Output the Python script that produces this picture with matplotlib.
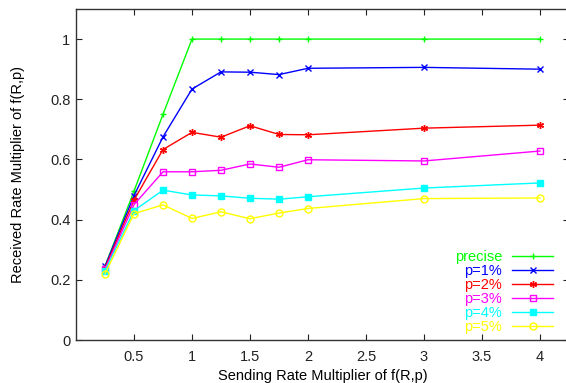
import matplotlib
matplotlib.use("Agg")
import matplotlib.pyplot as plt

plt.rcParams['font.family'] = ['Liberation Sans', 'DejaVu Sans']

# sending rate multipliers
rate = [0.25, 0.5, 0.75, 1, 1.25, 1.5, 1.75, 2, 3, 4]

precise = [0.245, 0.495, 0.75, 1.0, 1.0, 1.0, 1.0, 1.0, 1.0, 1.0]
p1 = [0.245, 0.48, 0.675, 0.834, 0.891, 0.89, 0.882, 0.903, 0.906, 0.90]
p2 = [0.24, 0.465, 0.633, 0.69, 0.674, 0.712, 0.683, 0.682, 0.704, 0.714]
p3 = [0.235, 0.45, 0.559, 0.559, 0.564, 0.585, 0.574, 0.599, 0.595, 0.628]
p4 = [0.23, 0.43, 0.498, 0.482, 0.479, 0.471, 0.468, 0.476, 0.505, 0.522]
p5 = [0.22, 0.42, 0.449, 0.404, 0.426, 0.403, 0.422, 0.437, 0.47, 0.472]

labels = ['precise', 'p=1%', 'p=2%', 'p=3%', 'p=4%', 'p=5%']
colors = ['#00ff00', '#0000ff', '#ff0000', '#ff00ff', '#00ffff', '#ffff00']

fig = plt.figure(figsize=(5.66, 3.83), dpi=100)
ax = fig.add_axes([76/566, 1 - 340/383, (569 - 76)/566, (340 - 9)/383])

series = [precise, p1, p2, p3, p4, p5]
markers = ['+', 'x', (6, 2, 0), 's', 's', 'o']
fills = ['full', 'full', 'full', 'none', 'full', 'none']
for vals, lab, col, m, fs in zip(series, labels, colors, markers, fills):
    ax.plot(rate, vals, color=col, lw=1, marker=m, ms=5, mew=1,
            fillstyle=fs, label=lab)

ax.set_xlim(0, 4.25)
ax.set_ylim(0, 1.1)
ax.set_xticks([0.5, 1, 1.5, 2, 2.5, 3, 3.5, 4])
ax.set_xticklabels(['0.5', '1', '1.5', '2', '2.5', '3', '3.5', '4'])
ax.set_yticks([0, 0.2, 0.4, 0.6, 0.8, 1])
ax.set_yticklabels(['0', '0.2', '0.4', '0.6', '0.8', '1'])
ax.tick_params(direction='in', top=True, right=True, length=4, width=0.8,
               labelsize=10.5, colors='#222222')
ax.tick_params(axis='y', pad=4)
ax.tick_params(axis='x', pad=7)
for sp in ax.spines.values():
    sp.set_linewidth(1)
    sp.set_color('#333333')

ax.set_xlabel('Sending Rate Multiplier of f(R,p)', fontsize=10.5, labelpad=4)
ax.set_ylabel('Received Rate Multiplier of f(R,p)', fontsize=10.5, labelpad=18)

ax.legend(loc='lower right', bbox_to_anchor=(0.9675, 0.018),
          frameon=False, markerfirst=False, labelcolor='linecolor',
          fontsize=10.5, handlelength=2.8, handletextpad=0.7,
          labelspacing=0.0, borderaxespad=0, borderpad=0)

fig.savefig('out.png', dpi=100)
